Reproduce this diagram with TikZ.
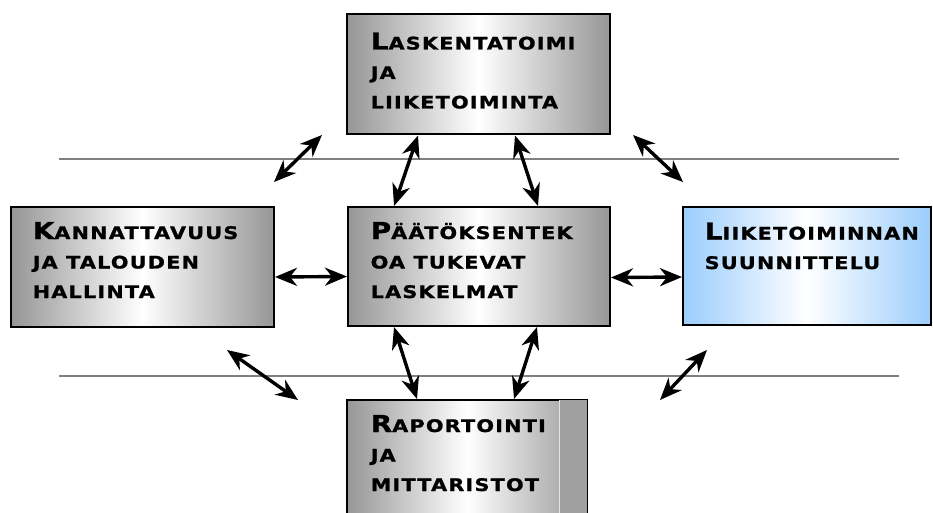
\documentclass[tikz,border=0pt]{standalone}
\usepackage{fontspec}
\usetikzlibrary{arrows.meta,positioning}
\newfontfamily\boxfont[LetterSpace=7,FakeStretch=1.2,FakeBold=1.2]{DejaVu Sans}
\definecolor{panelgray}{RGB}{150,150,150}
\definecolor{panelblue}{RGB}{155,205,252}
\definecolor{rulegray}{RGB}{128,128,128}
\newcommand{\capinit}[1]{{\fontsize{23.3}{29.5}\selectfont #1}}

\begin{document}
\begin{tikzpicture}[x=1pt,y=-1pt,<->,>={Stealth[length=22pt,width=18pt,inset=7pt]},line width=3.4pt,
    box node/.style={draw,line width=2pt,inner sep=0pt,left color=panelgray,right color=panelgray,middle color=white,minimum width=263pt,minimum height=120pt},
    blue node/.style={box node,left color=panelblue,right color=panelblue,middle color=white},
    text node/.style={inner sep=0pt,align=left,anchor=base west,font={\boxfont\bfseries\fontsize{17.3}{29.5}\selectfont}}]
                \useasboundingbox (0,0) rectangle (933,513);
                \clip (0,0) rectangle (933,513);

                % rules behind the arrows
                \draw[-,rulegray,line width=2pt] (59,159) -- (899,159);
                \draw[-,rulegray,line width=2pt] (59,376) -- (899,376);

                \node[box node] (acct) at (478.5,74.5) {};
                \node[box node] (prof) at (142.5,267) {};
                \node[box node,minimum width=262pt,minimum height=119pt] (dec) at (479,266.5) {};
                \node[blue node,minimum width=248pt,minimum height=118pt] (plan) at (807,266) {};
                \node[box node,minimum width=240pt,minimum height=130pt] (rep) at (467,465) {};
                \fill[panelgray!90!white] ([xshift=-29pt,yshift=-1pt]rep.north east) rectangle ([xshift=-1pt]rep.south east);
                \draw[-,white!80!gray,line width=0.6pt] ([xshift=-29pt,yshift=-1pt]rep.north east) -- ([xshift=-29pt]rep.south east);

                % base anchor sits on the last line
                \node[text node] (acctT) at ([shift={(23,95)}]acct.north west) {\capinit{L}ASKENTATOIMI\\JA\\LIIKETOIMINTA};
                \node[text node] (profT) at ([shift={(21,92)}]prof.north west) {\capinit{K}ANNATTAVUUS\\JA TALOUDEN\\HALLINTA};
                \node[text node] (decT) at ([shift={(22,92)}]dec.north west) {\capinit{P}ÄÄTÖKSENTEK\\OA TUKEVAT\\LASKELMAT};
                \node[text node] (planT) at ([shift={(21,63)}]plan.north west) {\capinit{L}IIKETOIMINNAN\\SUUNNITTELU};
                \node[text node] (repT) at ([shift={(23,92)}]rep.north west) {\capinit{R}APORTOINTI\\JA\\MITTARISTOT};

                \coordinate (nw1) at (322,135);
                \coordinate (nw2) at (274,182);
                \coordinate (ne1) at (633,135);
                \coordinate (ne2) at (683,182);
                \coordinate (sw1) at (227,350);
                \coordinate (sw2) at (298,400);
                \coordinate (se1) at (707,350);
                \coordinate (se2) at (660,400);

                \path
                    (nw1) edge (nw2)
                    (ne1) edge (ne2)
                    (sw1) edge (sw2)
                    (se1) edge (se2)
                    ([xshift=72pt]acct.south west) edge ([xshift=47pt]dec.north west)
                    ([xshift=169pt]acct.south west) edge ([xshift=191pt]dec.north west)
                    ([yshift=-10pt]prof.east) edge ([yshift=-10pt]dec.west)
                    ([yshift=-11pt]dec.east) edge ([yshift=-11pt]plan.west)
                    ([xshift=47pt]dec.south west) edge ([xshift=71pt]rep.north west)
                    ([xshift=190pt]dec.south west) edge ([xshift=168pt]rep.north west)
                    ;
            \end{tikzpicture}
\end{document}
